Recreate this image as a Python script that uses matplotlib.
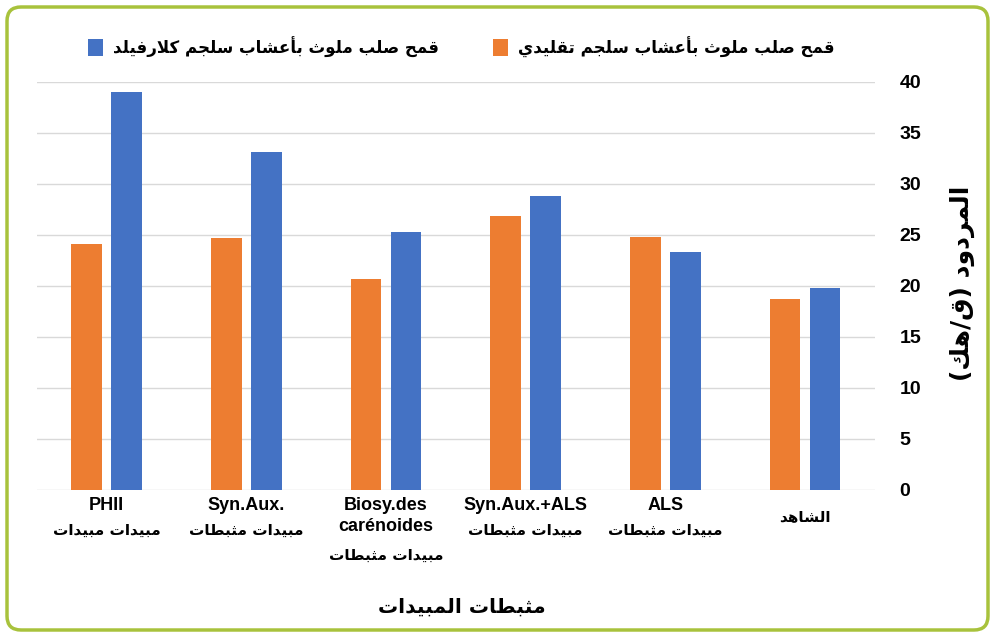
import matplotlib
matplotlib.use("Agg")
import matplotlib.pyplot as plt
import numpy as np
from matplotlib.patches import FancyBboxPatch
from matplotlib.transforms import IdentityTransform

# ---- data ----
categories_en = ["PHII", "Syn.Aux.", "Biosy.des\ncarénoides", "Syn.Aux.+ALS", "ALS", ""]
categories_ar = ["مبيدات مبيدات", "مبيدات مثبطات", "مبيدات مثبطات",
                 "مبيدات مثبطات", "مبيدات مثبطات", "الشاهد"]
yield_classic = [24.1, 24.7, 20.7, 26.9, 24.8, 18.7]
yield_clearfield = [39.0, 33.1, 25.3, 28.8, 23.3, 19.8]
label_classic = "قمح صلب ملوث بأعشاب سلجم تقليدي"
label_clearfield = "قمح صلب ملوث بأعشاب سلجم كلارفيلد"
xlabel = "مثبطات المبيدات"
ylabel = "المردود (ق/هك)"
yticks = [0, 5, 10, 15, 20, 25, 30, 35, 40]

ORANGE = "#ED7D31"
BLUE = "#4472C4"
GREEN = "#A8C23C"

# ---- tiny arabic shaper (matplotlib has no bidi / joining) ----
DUAL = {'ب': 0xFE8F, 'ت': 0xFE95, 'ث': 0xFE99, 'ج': 0xFE9D, 'ح': 0xFEA1,
        'س': 0xFEB1, 'ش': 0xFEB5, 'ص': 0xFEB9, 'ط': 0xFEC1, 'ع': 0xFEC9,
        'ف': 0xFED1, 'ق': 0xFED5, 'ك': 0xFED9, 'ل': 0xFEDD, 'م': 0xFEE1,
        'ن': 0xFEE5, 'ه': 0xFEE9, 'ي': 0xFEF1}
RIGHT = {'ا': 0xFE8D, 'أ': 0xFE83, 'د': 0xFEA9, 'ر': 0xFEAD, 'و': 0xFEED}
LAMALEF = {'ا': 0xFEFB, 'أ': 0xFEF7}


def ar(text):
    chars = list(text)
    out = []
    i = 0
    while i < len(chars):
        c = chars[i]
        prev = chars[i - 1] if i > 0 else ''
        joins_prev = prev in DUAL
        nxt = chars[i + 1] if i + 1 < len(chars) else ''
        if c == 'ل' and nxt in LAMALEF:
            out.append(chr(LAMALEF[nxt] + (1 if joins_prev else 0)))
            i += 2
            continue
        if c in DUAL:
            joins_next = nxt in DUAL or nxt in RIGHT
            form = {(False, False): 0, (True, False): 1,
                    (False, True): 2, (True, True): 3}[(joins_prev, joins_next)]
            out.append(chr(DUAL[c] + form))
        elif c in RIGHT:
            out.append(chr(RIGHT[c] + (1 if joins_prev else 0)))
        else:
            out.append(c)
        i += 1
    vis = ''.join(reversed(out))
    return vis.translate(str.maketrans('()', ')('))


plt.rcParams['font.family'] = ['Liberation Sans', 'DejaVu Sans']

fig = plt.figure(figsize=(9.94, 6.36), dpi=100)
ax = fig.add_axes([0.037, 0.2296, 0.843, 0.6415])

x = np.arange(len(yield_classic))
w = 0.22
ax.bar(x - 0.143, yield_classic, w, color=ORANGE, label=ar(label_classic), zorder=3)
ax.bar(x + 0.143, yield_clearfield, w, color=BLUE, label=ar(label_clearfield), zorder=3)

ax.set_xlim(-0.5, len(x) - 0.5)
ax.set_ylim(0, 40)
ax.set_yticks(yticks)
ax.yaxis.tick_right()
ax.tick_params(axis='y', length=0, pad=18, labelsize=14)
for t in ax.get_yticklabels():
    t.set_fontweight('bold')
ax.grid(axis='y', color='#D9D9D9', linewidth=1, zorder=0)
for s in ax.spines.values():
    s.set_visible(False)

# category labels: latin lines + arabic line drawn separately
ax.set_xticks(x)
ax.set_xticklabels([])
ax.tick_params(axis='x', length=0)
for xi, en, a in zip(x, categories_en, categories_ar):
    n = len(en.split("\n")) if en else 0
    if en:
        ax.annotate(en, xy=(xi, 0), xycoords=('data', 'axes fraction'),
                    xytext=(0, -5), textcoords='offset points', ha='center', va='top',
                    fontsize=13, fontweight='bold', linespacing=1.3)
    dy = -19 if n == 0 else -29 - 18 * (n - 1)
    ax.annotate(ar(a), xy=(xi, 0), xycoords=('data', 'axes fraction'),
                xytext=(0, dy), textcoords='offset points', ha='center', va='center',
                fontsize=11, fontweight='bold', family='DejaVu Sans')

fig.text(462 / 994, 1 - 607 / 636, ar(xlabel), ha='center', va='center',
         fontsize=14.5, fontweight='bold', family='DejaVu Sans')
fig.text(962 / 994, 1 - 283 / 636, ar(ylabel), ha='center', va='center', rotation=90,
         fontsize=18, fontweight='bold', family='DejaVu Sans')

h, l = ax.get_legend_handles_labels()
fig.legend([h[1], h[0]], [l[1], l[0]], loc='center', bbox_to_anchor=(0.464, 0.926),
           ncol=2, frameon=False, handlelength=0.9, handleheight=1.2, handletextpad=0.6,
           columnspacing=3.2, prop={'family': 'DejaVu Sans', 'weight': 'bold', 'size': 12})

frame = FancyBboxPatch((7, 6), 981, 623, boxstyle="round,pad=0,rounding_size=14",
                       transform=IdentityTransform(), fill=False, edgecolor=GREEN, linewidth=2.5)
fig.patches.append(frame)

fig.savefig("out.png", dpi=100)
